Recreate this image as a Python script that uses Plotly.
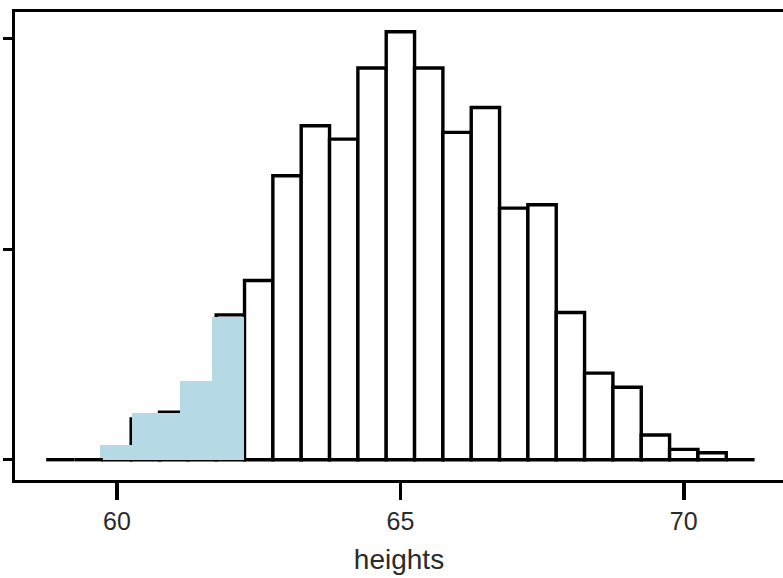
import plotly.graph_objects as go

# ---- data ----
bin_start = 58.75
bin_width = 0.5
densities = [0.0, 0.0, 0.004, 0.0193, 0.0225, 0.033, 0.0688, 0.0851,
             0.1349, 0.1586, 0.1523, 0.1861, 0.2033, 0.1861, 0.1555,
             0.1673, 0.1195, 0.1211, 0.0699, 0.0411, 0.0344, 0.0117,
             0.0049, 0.0033, 0.0]
shade_edges = [59.705, 60.265, 61.116, 61.68, 62.245]
shade_heights = [0.0070, 0.0220, 0.0375, 0.0680]
x_ticks = [60, 65, 70]
x_tick_labels = ["60", "65", "70"]
y_ticks = [0.0, 0.1, 0.2]
x_title = "heights"

# ---- derived ----
edges = [bin_start + bin_width * i for i in range(len(densities) + 1)]
centers = [(edges[i] + edges[i + 1]) / 2 for i in range(len(densities))]
nz_x = [c for c, d in zip(centers, densities) if d > 0]
nz_y = [d for d in densities if d > 0]

base_x, base_y = [], []
for i, d in enumerate(densities):
    if d == 0:
        base_x += [edges[i], edges[i + 1], None]
        base_y += [0, 0, None]

shade_x = [(shade_edges[i] + shade_edges[i + 1]) / 2 for i in range(len(shade_heights))]
shade_w = [shade_edges[i + 1] - shade_edges[i] for i in range(len(shade_heights))]

fig = go.Figure()
fig.add_trace(go.Bar(x=nz_x, y=nz_y, width=bin_width,
                     marker=dict(color="white", line=dict(color="black", width=3.4)),
                     hoverinfo="skip"))
fig.add_trace(go.Bar(x=shade_x, y=shade_heights, width=shade_w,
                     marker=dict(color="#B5D9E5", line=dict(width=0)),
                     hoverinfo="skip"))
fig.add_trace(go.Scatter(x=base_x, y=base_y, mode="lines",
                         line=dict(color="black", width=3.4), hoverinfo="skip"))

L, T, B = 14.65, 12.35, 98
fig.update_layout(
    width=783, height=578,
    margin=dict(l=L, r=0, t=T, b=B, pad=0),
    paper_bgcolor="white", plot_bgcolor="white",
    showlegend=False, barmode="overlay", bargap=0,
    font=dict(family="Liberation Sans, Arial, sans-serif", color="#2a2a2a"),
)
fig.update_xaxes(range=[58.2002, 71.751], showgrid=False, zeroline=False,
                 showline=True, linecolor="black", linewidth=3.3, mirror=True,
                 ticks="outside", ticklen=17, tickwidth=3.6, tickcolor="black",
                 tickvals=x_ticks, ticktext=x_tick_labels,
                 tickfont=dict(size=25),
                 title=dict(text=x_title, font=dict(size=28), standoff=16))
fig.update_yaxes(range=[-0.00965, 0.21267], showgrid=False, zeroline=False,
                 showline=True, linecolor="black", linewidth=3.3, mirror=False,
                 ticks="outside", ticklen=9, tickwidth=3.3, tickcolor="black",
                 tickvals=y_ticks, showticklabels=False)

fig.write_html("out.html",
               config={"displayModeBar": False, "staticPlot": True},
               post_script="document.body.style.margin='0';"
                           "document.body.style.overflow='hidden';")
